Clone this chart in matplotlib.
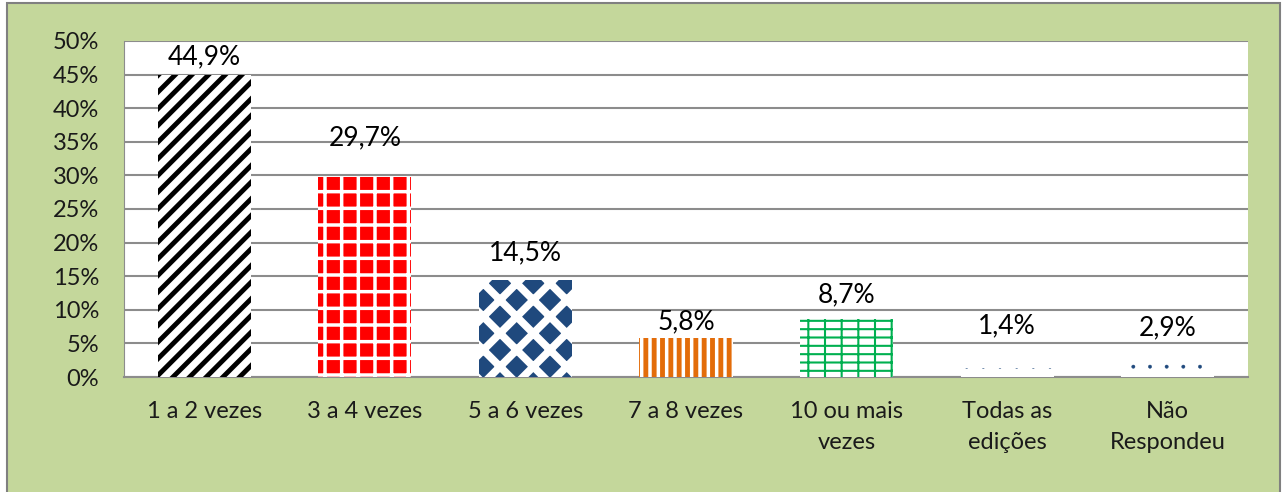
import matplotlib.pyplot as plt
from matplotlib.patches import Rectangle
from matplotlib.ticker import PercentFormatter

categorias = ['1 a 2 vezes', '3 a 4 vezes', '5 a 6 vezes', '7 a 8 vezes',
              '10 ou mais\nvezes', 'Todas as\nedições', 'Não\nRespondeu']
valores = [44.9, 29.7, 14.5, 5.8, 8.7, 1.4, 2.9]
rotulos = ['44,9%', '29,7%', '14,5%', '5,8%', '8,7%', '1,4%', '2,9%']

# style of each bar (face, hatch colour, hatch, hatch width)
faces = ['white', '#ff0000', '#1f497d', 'white', 'white', 'white', 'white']
hachuras_cor = ['black', 'white', 'white', '#e36c09', '#00b050', '#1f497d', '#1f497d']
hachuras = ['//', '+', 'x', '||', '--|', '.', '.']
hachuras_lw = [3.5, 2.5, 5.5, 3.5, 1.5, 0.3, 0.3]
# label heights (above the bars, as in the original)
rotulo_y = [47.6, 35.6, 18.5, 8.2, 12.2, 7.6, 7.3]

plt.rcParams['font.family'] = ['Lato', 'DejaVu Sans']
plt.rcParams['hatch.linewidth'] = 3.0

fig = plt.figure(figsize=(12.85, 4.92), dpi=100)
fig.patch.set_facecolor('white')
fundo = Rectangle((7 / 1285, -0.02), 1273 / 1285, 1.02 - 3 / 492,
                  transform=fig.transFigure, facecolor='#c4d79b',
                  edgecolor='#808080', linewidth=1.5, zorder=-5)
fig.add_artist(fundo)

ax = fig.add_axes([124 / 1285, 1 - 377 / 492, 1124 / 1285, 336 / 492])
ax.set_facecolor('white')

x = range(len(categorias))
for i in x:
    barras = ax.bar(i, valores[i], width=0.58, color=faces[i],
                    edgecolor=hachuras_cor[i], hatch=hachuras[i],
                    linewidth=0, zorder=3)
    for b in barras:
        if hasattr(b, 'set_hatch_linewidth'):
            b.set_hatch_linewidth(hachuras_lw[i])
    ax.text(i, rotulo_y[i], rotulos[i], ha='center', va='center',
            fontsize=19, color='black', zorder=4)

ax.set_xlim(-0.5, len(categorias) - 0.5)
ax.set_ylim(0, 50)
ax.set_yticks(range(0, 51, 5))
ax.yaxis.set_major_formatter(PercentFormatter(decimals=0))
ax.set_xticks(list(x))
ax.set_xticklabels(categorias, fontsize=17, linespacing=1.6)
ax.tick_params(axis='y', labelsize=17, length=0, pad=18, labelcolor='#1a1a1a')
ax.tick_params(axis='x', length=0, pad=17, labelcolor='#1a1a1a')
for lab in ax.get_xticklabels():
    lab.set_verticalalignment('top')

ax.grid(axis='y', color='#8c8c8c', linewidth=1.5, zorder=1)
ax.set_axisbelow(True)
for lado in ['top', 'right']:
    ax.spines[lado].set_visible(False)
ax.spines['left'].set_color('#8c8c8c')
ax.spines['bottom'].set_color('#8c8c8c')
ax.spines['bottom'].set_linewidth(1.5)

fig.savefig('out.png', dpi=100)
